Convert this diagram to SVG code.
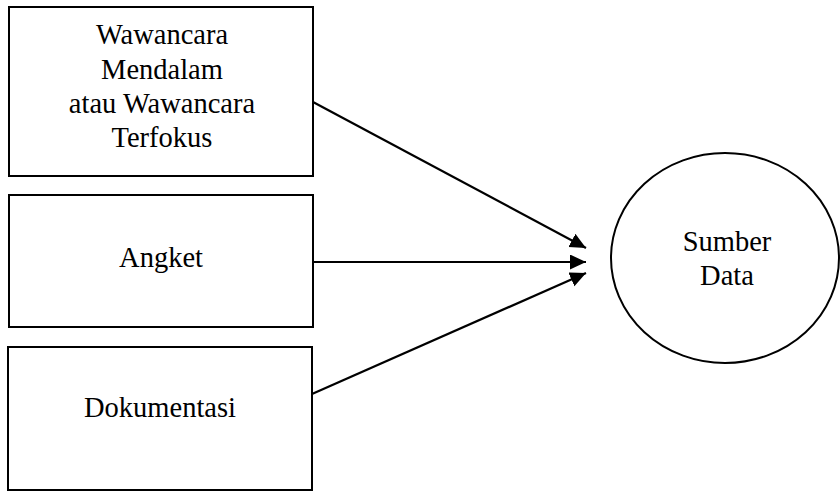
<svg xmlns="http://www.w3.org/2000/svg" width="840" height="491" viewBox="0 0 840 491">
<style>
.box{fill:#fff;stroke:#000;stroke-width:2}
.lbl{font-family:"Liberation Serif","Times New Roman",serif;font-size:28.5px;fill:#000;text-anchor:middle}
.conn{stroke:#000;stroke-width:2.2;fill:none;marker-end:url(#ah)}
</style>
<defs>
<marker id="ah" markerUnits="userSpaceOnUse" markerWidth="18" markerHeight="16" refX="16" refY="7.5" orient="auto">
<path d="M0,0 L16,7.5 L0,15 Z" fill="#000"/>
</marker>
</defs>
<rect width="840" height="491" fill="#fff"/>
<g id="node-wawancara">
<rect class="box" x="9" y="7" width="304" height="169"/>
<text class="lbl" x="162" y="44">Wawancara</text>
<text class="lbl" x="162" y="79">Mendalam</text>
<text class="lbl" x="162" y="113">atau Wawancara</text>
<text class="lbl" x="162" y="147">Terfokus</text>
</g>
<g id="node-angket">
<rect class="box" x="9" y="195" width="304" height="132"/>
<text class="lbl" x="161" y="267">Angket</text>
</g>
<g id="node-dokumentasi">
<rect class="box" x="8" y="347" width="304" height="143"/>
<text class="lbl" x="160" y="417">Dokumentasi</text>
</g>
<g id="node-sumber">
<ellipse class="box" cx="725" cy="258" rx="114" ry="105"/>
<text class="lbl" x="727" y="251">Sumber</text>
<text class="lbl" x="727" y="285">Data</text>
</g>
<g id="connectors">
<line class="conn" x1="313" y1="102" x2="586" y2="248"/>
<line class="conn" x1="313" y1="262" x2="586" y2="262"/>
<line class="conn" x1="312" y1="394" x2="586" y2="273"/>
</g>
</svg>
